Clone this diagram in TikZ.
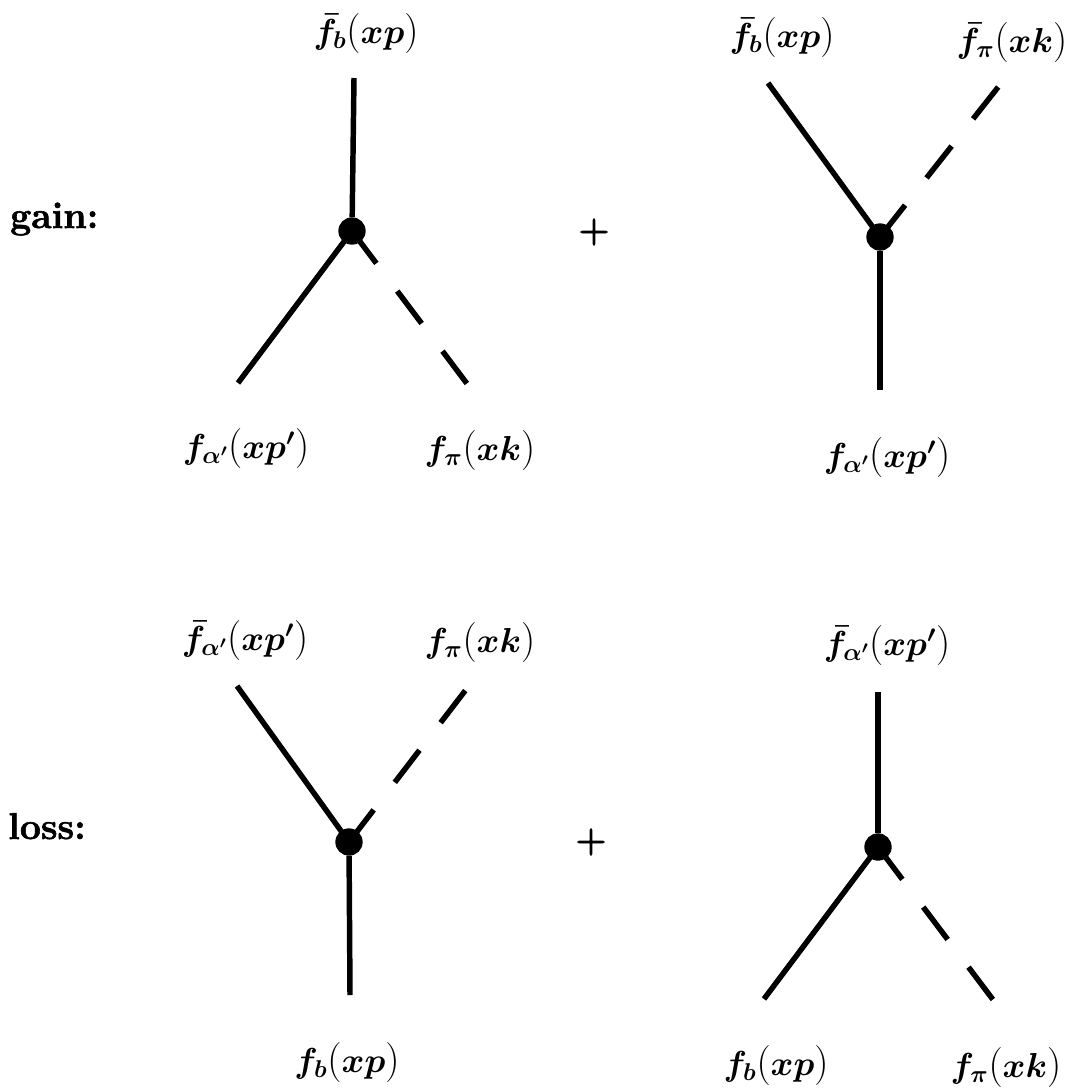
\documentclass[tikz,border=0pt]{standalone}
\usepackage{fix-cm}
\usepackage[no-math]{fontspec}
\newfontfamily\heavyword[FakeBold=1.6]{Latin Modern Roman}[BoldFont={Latin Modern Roman/B}]
\newcommand{\lpr}{\mathopen{\mbox{\fontsize{30}{34}\selectfont\unboldmath$($}}}
\newcommand{\rpr}{\mathclose{\mbox{\fontsize{30}{34}\selectfont\unboldmath$)$}}}
\tikzset{
  line/.style={line width=4.1pt,line cap=butt,black},
  dashline/.style={line width=4.1pt,line cap=butt,black,dash pattern=on 30.4pt off 26pt},
  vertex/.style={circle,fill=black,inner sep=0pt,minimum size=20.5pt},
  lab/.style={inner sep=0pt,anchor=base,font=\fontsize{26}{30}\selectfont\boldmath},
  word/.style={inner sep=0pt,anchor=base west,font=\fontsize{28}{32}\selectfont\bfseries},
  plus/.style={inner sep=0pt,anchor=center,font=\fontsize{27}{32}\selectfont\bfseries}
}
\begin{document}
\begin{tikzpicture}[x=0.75pt,y=-0.75pt]
\useasboundingbox (0,0) rectangle (1069,1089);
% diagram A
\node[vertex] (A) at (352,231) {};
\coordinate (At) at (354,78);
\coordinate (Al) at (238,383);
\coordinate (Ar) at (468,385);
\draw[line] (A) -- (At);
\draw[line] (A.center) -- (Al);
\draw[dashline] (A.center) -- (Ar);
\node[lab] (Atl) at (366,43) {$\bar f_b\lpr xp\rpr$};
\node[lab] (All) at (246,458) {$f_{\alpha'}\lpr xp'\rpr$};
\node[lab] (Arl) at (480,460) {$f_\pi\lpr xk\rpr$};
% diagram B
\node[vertex] (B) at (880,237) {};
\coordinate (Bl) at (768,83);
\coordinate (Br) at (999,86);
\coordinate (Bb) at (880,390);
\draw[line] (B.center) -- (Bl);
\draw[dashline] (B.center) -- (Br);
\draw[line] (B) -- (Bb);
\node[lab] (Bll) at (782,47) {$\bar f_b\lpr xp\rpr$};
\node[lab] (Brl) at (1012,52) {$\bar f_\pi\lpr xk\rpr$};
\node[lab] (Bbl) at (887,467) {$f_{\alpha'}\lpr xp'\rpr$};
% diagram C
\node[vertex] (C) at (349,842) {};
\coordinate (Cl) at (237,686);
\coordinate (Cr) at (468,687);
\coordinate (Cb) at (350,995);
\draw[line] (C.center) -- (Cl);
\draw[dashline] (C.center) -- (Cr);
\draw[line] (C) -- (Cb);
\node[lab] (Cll) at (245,650) {$\bar f_{\alpha'}\lpr xp'\rpr$};
\node[lab] (Crl) at (480,652) {$f_\pi\lpr xk\rpr$};
\node[lab] (Cbl) at (347,1072) {$f_b\lpr xp\rpr$};
% diagram D
\node[vertex] (D) at (878,847) {};
\coordinate (Dt) at (878,692);
\coordinate (Dl) at (764,999);
\coordinate (Dr) at (994,1001);
\draw[line] (D) -- (Dt);
\draw[line] (D.center) -- (Dl);
\draw[dashline] (D.center) -- (Dr);
\node[lab] (Dtl) at (887,655) {$\bar f_{\alpha'}\lpr xp'\rpr$};
\node[lab] (Dll) at (776,1075) {$f_b\lpr xp\rpr$};
\node[lab] (Drl) at (1006,1077) {$f_\pi\lpr xk\rpr$};
% words and signs
\node[word] (gain) at (10,228) {\heavyword gain:};
\node[word] (loss) at (8,839) {\heavyword loss:};
\node[plus] (p1) at (594,232) {\heavyword +};
\node[plus] (p2) at (591,842) {\heavyword +};
\end{tikzpicture}
\end{document}
